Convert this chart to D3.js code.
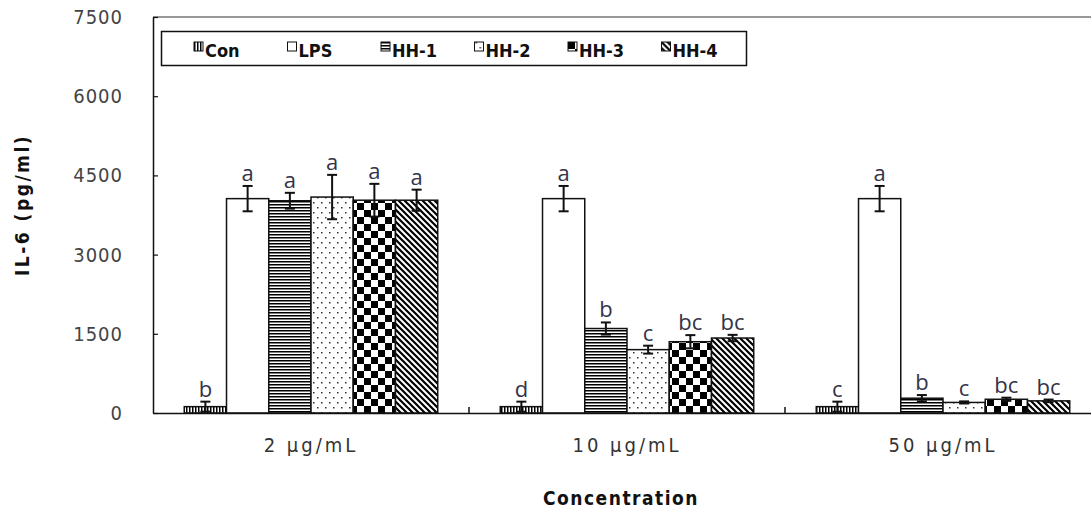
<!DOCTYPE html>
<html>
<head>
<meta charset="utf-8">
<script src="https://cdn.jsdelivr.net/npm/d3@7"></script>
<style>
  html, body { margin: 0; padding: 0; background: #fff; }
  svg { display: block; }
</style>
</head>
<body>
<div id="chart"></div>
<script>
// data
const categories = ['2 μg/mL', '10 μg/mL', '50 μg/mL'];
const seriesNames = ['Con', 'LPS', 'HH-1', 'HH-2', 'HH-3', 'HH-4'];
const conValues = [120, 120, 120];
const lpsValues = [4060, 4060, 4060];
const hh1Values = [4020, 1600, 280];
const hh2Values = [4090, 1200, 200];
const hh3Values = [4030, 1350, 260];
const hh4Values = [4030, 1420, 230];
const conErr = [95, 95, 95];
const lpsErr = [240, 240, 240];
const hh1Err = [150, 115, 60];
const hh2Err = [420, 75, 20];
const hh3Err = [310, 125, 30];
const hh4Err = [200, 60, 25];
const conLetters = ['b', 'd', 'c'];
const lpsLetters = ['a', 'a', 'a'];
const hh1Letters = ['a', 'b', 'b'];
const hh2Letters = ['a', 'c', 'c'];
const hh3Letters = ['a', 'bc', 'bc'];
const hh4Letters = ['a', 'bc', 'bc'];
const yTicks = [0, 1500, 3000, 4500, 6000, 7500];

const values = [conValues, lpsValues, hh1Values, hh2Values, hh3Values, hh4Values];
const errors = [conErr, lpsErr, hh1Err, hh2Err, hh3Err, hh4Err];
const letters = [conLetters, lpsLetters, hh1Letters, hh2Letters, hh3Letters, hh4Letters];

const W = 1091, H = 512;
const plot = { left: 153, right: 1101, top: 17, bottom: 413 };
const thinFont = '"DejaVu Sans Condensed", "Liberation Sans Narrow", sans-serif';

const svg = d3.select('#chart').append('svg')
  .attr('width', W).attr('height', H);

// fill patterns
const defs = svg.append('defs');
const pats = {};
function pattern(id, w, h, draw) {
  const p = defs.append('pattern').attr('id', id)
    .attr('patternUnits', 'userSpaceOnUse').attr('width', w).attr('height', h);
  p.append('rect').attr('width', w).attr('height', h).attr('fill', '#fff');
  draw(p);
  return `url(#${id})`;
}
pats['Con'] = pattern('p-con', 3, 3, p => p.append('rect').attr('x', 0).attr('width', 1.5).attr('height', 3).attr('fill', '#000'));
pats['LPS'] = '#fff';
pats['HH-1'] = pattern('p-hh1', 3, 3, p => p.append('rect').attr('y', 0).attr('width', 3).attr('height', 1.5).attr('fill', '#000'));
pats['HH-2'] = pattern('p-hh2', 8, 10, p => {
  p.append('rect').attr('x', 1).attr('y', 2).attr('width', 1.5).attr('height', 1.5).attr('fill', '#333');
  p.append('rect').attr('x', 5).attr('y', 7).attr('width', 1.5).attr('height', 1.5).attr('fill', '#333');
});
pats['HH-3'] = pattern('p-hh3', 14, 14, p => {
  p.append('rect').attr('x', 0).attr('y', 0).attr('width', 7).attr('height', 7).attr('fill', '#000');
  p.append('rect').attr('x', 7).attr('y', 7).attr('width', 7).attr('height', 7).attr('fill', '#000');
});
pats['HH-4'] = pattern('p-hh4', 6, 6, p => {
  p.append('path').attr('d', 'M-3,-3 L9,9 M-3,3 L3,9 M3,-3 L9,3')
    .attr('stroke', '#000').attr('stroke-width', 2.2);
});

const x0 = d3.scaleBand().domain(categories).range([plot.left, plot.right]).padding(0);
const x1 = d3.scaleBand().domain(seriesNames).range([0, x0.bandwidth()])
  .paddingInner(0).paddingOuter(0.74);
const y = d3.scaleLinear().domain([0, 7500]).range([plot.bottom, plot.top]);

// top frame line
svg.append('line')
  .attr('x1', plot.left).attr('x2', W).attr('y1', plot.top).attr('y2', plot.top)
  .attr('stroke', '#333').attr('stroke-width', 1.2);

// bars
const rows = [];
categories.forEach((c, ci) => {
  seriesNames.forEach((s, si) => {
    rows.push({ cat: c, name: s, v: values[si][ci], e: errors[si][ci], l: letters[si][ci] });
  });
});
const cx = d => x0(d.cat) + x1(d.name) + x1.bandwidth() / 2;

const g = svg.append('g');
g.selectAll('rect.bar').data(rows).enter().append('rect')
  .attr('class', 'bar')
  .attr('x', d => x0(d.cat) + x1(d.name))
  .attr('y', d => y(d.v))
  .attr('width', x1.bandwidth())
  .attr('height', d => y(0) - y(d.v))
  .attr('fill', d => pats[d.name])
  .attr('stroke', '#111').attr('stroke-width', 1.5);

// error bars
const cap = 5;
const eb = g.selectAll('g.err').data(rows).enter().append('g').attr('class', 'err')
  .attr('stroke', '#111').attr('stroke-width', 2);
eb.append('line')
  .attr('x1', cx).attr('x2', cx)
  .attr('y1', d => y(d.v + d.e)).attr('y2', d => y(Math.max(0, d.v - d.e)));
eb.append('line')
  .attr('x1', d => cx(d) - cap).attr('x2', d => cx(d) + cap)
  .attr('y1', d => y(d.v + d.e)).attr('y2', d => y(d.v + d.e));
eb.append('line')
  .attr('x1', d => cx(d) - cap).attr('x2', d => cx(d) + cap)
  .attr('y1', d => y(Math.max(0, d.v - d.e))).attr('y2', d => y(Math.max(0, d.v - d.e)));

// significance letters
g.selectAll('text.sig').data(rows).enter().append('text')
  .attr('class', 'sig')
  .attr('x', cx)
  .attr('y', d => y(d.v + d.e) - 5)
  .attr('text-anchor', 'middle')
  .style('font-family', '"Open Sans", "Noto Sans", sans-serif')
  .style('font-size', '22px')
  .attr('fill', '#33334a')
  .text(d => d.l);

// y axis
const yAxis = svg.append('g').attr('transform', `translate(${plot.left},0)`)
  .call(d3.axisLeft(y).tickValues(yTicks).tickSizeInner(-5).tickSizeOuter(0).tickPadding(30).tickFormat(d3.format('d')));
yAxis.select('.domain').attr('stroke', '#111').attr('stroke-width', 1.5);
yAxis.selectAll('.tick line').attr('stroke', '#111').attr('stroke-width', 1.2);
yAxis.selectAll('.tick text')
  .style('font-family', thinFont)
  .style('font-size', '20px').style('letter-spacing', '1px').attr('fill', '#444');

// x axis
const xAxis = svg.append('g').attr('transform', `translate(0,${plot.bottom})`)
  .call(d3.axisBottom(x0).tickSize(0).tickPadding(25));
xAxis.select('.domain').attr('stroke', '#111').attr('stroke-width', 1.5);
xAxis.selectAll('.tick text')
  .style('font-family', thinFont)
  .style('font-size', '20px').style('letter-spacing', '3px').attr('fill', '#333');
// category separator ticks
svg.append('g').selectAll('line').data(categories.slice(1)).enter().append('line')
  .attr('x1', d => x0(d)).attr('x2', d => x0(d))
  .attr('y1', plot.bottom).attr('y2', plot.bottom - 6)
  .attr('stroke', '#111').attr('stroke-width', 1.5);

// axis titles
svg.append('text')
  .attr('x', 621).attr('y', 505)
  .attr('text-anchor', 'middle')
  .style('font-family', thinFont)
  .style('font-weight', 'bold').style('font-size', '19px').style('letter-spacing', '1.5px')
  .attr('fill', '#111')
  .text('Concentration');
svg.append('text')
  .attr('transform', 'translate(29,205) rotate(-90)')
  .attr('text-anchor', 'middle')
  .style('font-family', thinFont)
  .style('font-weight', 'bold').style('font-size', '19px').style('letter-spacing', '2.5px')
  .attr('fill', '#111')
  .text('IL-6 (pg/ml)');

// legend
const legend = svg.append('g');
legend.append('rect')
  .attr('x', 161.5).attr('y', 31.5).attr('width', 585).attr('height', 34)
  .attr('fill', '#fff').attr('stroke', '#111').attr('stroke-width', 1.5);
const item = legend.selectAll('g.item').data(seriesNames).enter().append('g')
  .attr('class', 'item')
  .attr('transform', (d, i) => `translate(${194 + i * 93.5},0)`);
item.append('rect')
  .attr('x', 0).attr('y', 42).attr('width', 9).attr('height', 9)
  .attr('fill', d => pats[d]).attr('stroke', '#111').attr('stroke-width', 1);
item.append('text')
  .attr('x', 11).attr('y', 57)
  .style('font-family', thinFont)
  .style('font-weight', 'bold').style('font-size', '18px')
  .attr('fill', '#111')
  .text(d => d);
</script>
</body>
</html>
